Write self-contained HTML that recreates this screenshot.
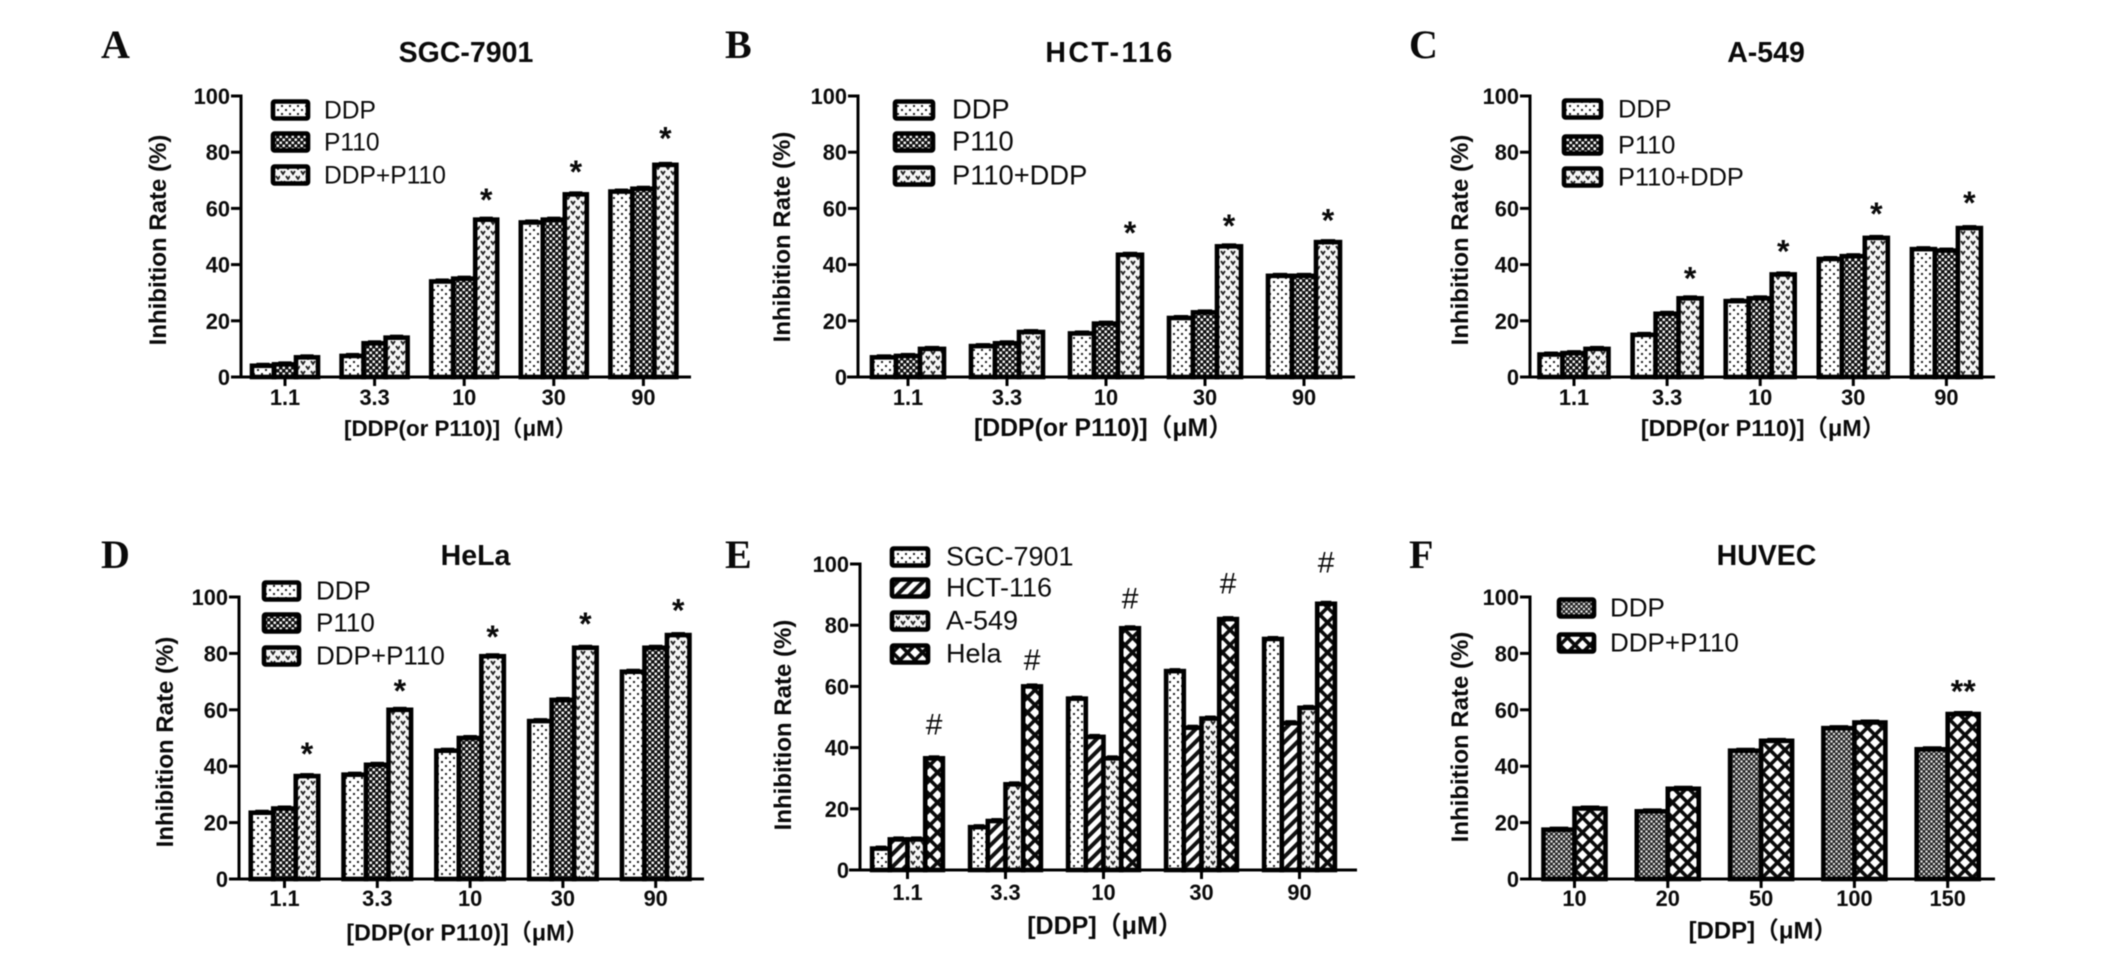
<!DOCTYPE html>
<html lang="en">
<head>
<meta charset="utf-8">
<title>Inhibition rate panels</title>
<style>
html,body{margin:0;padding:0;background:#fff;width:2126px;height:976px;overflow:hidden}
svg{display:block;filter:blur(0.45px)}
text{fill:#0a0a0a;font-family:"Liberation Sans","Noto Sans CJK SC",sans-serif}
</style>
</head>
<body>
<svg id="fig" xmlns="http://www.w3.org/2000/svg" width="2126" height="976" viewBox="0 0 2126 976">
<defs>
<pattern id="p-sparse" width="8" height="8" patternUnits="userSpaceOnUse"><rect width="8" height="8" fill="#fff"/><rect x="1" y="1" width="2" height="2" fill="#222"/><rect x="5" y="5" width="2" height="2" fill="#222"/></pattern>
<pattern id="p-dense" width="6" height="6" patternUnits="userSpaceOnUse"><rect width="6" height="6" fill="#111"/><rect x="0.5" y="0.5" width="2.5" height="2.5" fill="#f4f4f4"/><rect x="3.5" y="3.5" width="2.5" height="2.5" fill="#f4f4f4"/></pattern>
<pattern id="p-fine" width="5" height="5" patternUnits="userSpaceOnUse"><rect width="5" height="5" fill="#222"/><rect x="0.4" y="0.4" width="2.2" height="2.2" fill="#e8e8e8"/><rect x="2.9" y="2.9" width="2.1" height="2.1" fill="#e8e8e8"/></pattern>
<pattern id="p-heart" width="10" height="10" patternUnits="userSpaceOnUse"><rect width="10" height="10" fill="#f6f6f6"/><path d="M1 1 L3 4 L5 1 M6 6 L8 9 L10 6" stroke="#222" stroke-width="1.8" fill="none"/></pattern>
<pattern id="p-stripe" width="9" height="9" patternUnits="userSpaceOnUse" patternTransform="rotate(45)"><rect width="9" height="9" fill="#fff"/><rect width="4" height="9" fill="#111"/></pattern>
<pattern id="p-cross" width="15" height="15" patternUnits="userSpaceOnUse"><rect width="15" height="15" fill="#fff"/><path d="M-2 -2 L17 17 M17 -2 L-2 17 M-2 13 L2 17 M13 -2 L17 2 M-2 2 L2 -2 M13 17 L17 13" stroke="#0a0a0a" stroke-width="3.6" fill="none"/></pattern>
</defs>
</svg>
<script>
/* Chart values */
const doseLabels = ['1.1', '3.3', '10', '30', '90'];
const huvecLabels = ['10', '20', '50', '100', '150'];
const yTickValues = [0, 20, 40, 60, 80, 100];

const sgcDdp = [4, 7.5, 34, 55, 66];
const sgcP110 = [4.5, 12, 35, 56, 67];
const sgcCombo = [7, 14, 56, 65, 75.5];
const sgcMarkGap = [null, null, 8, 9, 10.5];

const hctDdp = [7, 11, 15.5, 21, 36];
const hctP110 = [7.5, 12, 19, 23, 36];
const hctCombo = [10, 16, 43.5, 46.5, 48];
const hctMarkGap = [null, null, 8.9, 8.3, 8.8];

const a549Ddp = [8, 15, 27, 42, 45.5];
const a549P110 = [8.5, 22.5, 28, 43, 45];
const a549Combo = [10, 28, 36.5, 49.5, 53];
const a549MarkGap = [null, 8.2, 9.2, 9.6, 10];

const helaDdp = [23.5, 37, 45.5, 56, 73.5];
const helaP110 = [25, 40.5, 50, 63.5, 82];
const helaCombo = [36.5, 60, 79, 82, 86.5];
const helaMarkGap = [8.9, 7.7, 7.8, 9.5, 9.8];

const cmpSgc = [7, 14, 56, 65, 75.5];
const cmpHct = [10, 16, 43.5, 46.5, 48];
const cmpA549 = [10, 28, 36.5, 49.5, 53];
const cmpHela = [36.5, 60, 79, 82, 87];
const cmpMarkGap = [9.8, 7.4, 8.4, 10.4, 12.2];

const huvecDdp = [17.5, 24, 45.5, 53.5, 46];
const huvecCombo = [25, 32, 49, 55.5, 58.5];
const huvecMarkGap = [null, null, null, null, 9.1];

const panels = [
 {id:'a',letter:'A',lx:101,ly:58,title:'SGC-7901',tx:466,ty:62,tSpace:0,axisX:241,xStart:231,xEnd:691,yTop:96,yBase:377,first:285,step:89.6,barW:22,
  cats:doseLabels,tickY:405,xTitle:'[DDP(or P110)]（μM）',xFont:22.3,xtx:460.5,xty:436,ylx:158,yly:240,mark:'*',gaps:sgcMarkGap,markBar:2,
  series:[['DDP',sgcDdp,'p-sparse'],['P110',sgcP110,'p-dense'],['DDP+P110',sgcCombo,'p-heart']],
  legX:271,legW:39,legText:324,legFont:24.6,legY:[110,142,175]},
 {id:'b',letter:'B',lx:725,ly:58,title:'HCT-116',tx:1110,ty:62,tSpace:2.4,axisX:858,xStart:847,xEnd:1355,yTop:96,yBase:377,first:908,step:99,barW:24,
  cats:doseLabels,tickY:405,xTitle:'[DDP(or P110)]（μM）',xFont:24.8,xtx:1103.5,xty:436,ylx:782,yly:237,mark:'*',gaps:hctMarkGap,markBar:2,
  series:[['DDP',hctDdp,'p-sparse'],['P110',hctP110,'p-dense'],['P110+DDP',hctCombo,'p-heart']],
  legX:893,legW:42,legText:952,legFont:27.3,legY:[110,142,176]},
 {id:'c',letter:'C',lx:1409,ly:58,title:'A-549',tx:1766,ty:62,tSpace:0,axisX:1530,xStart:1520,xEnd:1995,yTop:96,yBase:377,first:1574,step:93.1,barW:23,
  cats:doseLabels,tickY:405,xTitle:'[DDP(or P110)]（μM）',xFont:23.4,xtx:1763,xty:436,ylx:1460,yly:240,mark:'*',gaps:a549MarkGap,markBar:2,
  series:[['DDP',a549Ddp,'p-sparse'],['P110',a549P110,'p-dense'],['P110+DDP',a549Combo,'p-heart']],
  legX:1562,legW:41,legText:1618,legFont:25.4,legY:[109,145,177]},
 {id:'d',letter:'D',lx:101,ly:568,title:'HeLa',tx:475.5,ty:565,tSpace:0,axisX:239,xStart:229,xEnd:704,yTop:597,yBase:879,first:284.5,step:92.8,barW:22.5,
  cats:doseLabels,tickY:906,xTitle:'[DDP(or P110)]（μM）',xFont:23.2,xtx:467.5,xty:940.5,ylx:165,yly:742,mark:'*',gaps:helaMarkGap,markBar:2,
  series:[['DDP',helaDdp,'p-sparse'],['P110',helaP110,'p-dense'],['DDP+P110',helaCombo,'p-heart']],
  legX:262,legW:39,legText:316,legFont:26,legY:[591,623,656]},
 {id:'e',letter:'E',lx:725,ly:568,title:'',tx:0,ty:0,tSpace:0,axisX:860,xStart:849,xEnd:1357,yTop:564,yBase:870,first:907.5,step:98,barW:17.7,
  cats:doseLabels,tickY:900,xTitle:'[DDP]（μM）',xFont:25,xtx:1105,xty:934,ylx:783,yly:725,mark:'#',gaps:cmpMarkGap,markBar:3,
  series:[['SGC-7901',cmpSgc,'p-sparse'],['HCT-116',cmpHct,'p-stripe'],['A-549',cmpA549,'p-heart'],['Hela',cmpHela,'p-cross']],
  legX:890,legW:40,legText:946,legFont:27,legY:[557,588,621,654]},
 {id:'f',letter:'F',lx:1409,ly:568,title:'HUVEC',tx:1766.5,ty:565,tSpace:0,axisX:1530,xStart:1520,xEnd:1995,yTop:597,yBase:879,first:1574.5,step:93.3,barW:31,
  cats:huvecLabels,tickY:906,xTitle:'[DDP]（μM）',xFont:23.9,xtx:1763,xty:938.5,ylx:1460,yly:737,mark:'**',gaps:huvecMarkGap,markBar:1,
  series:[['DDP',huvecDdp,'p-fine'],['DDP+P110',huvecCombo,'p-cross']],
  legX:1557,legW:39,legText:1610,legFont:26,legY:[608,643]}
];

const SVGNS = 'http://www.w3.org/2000/svg';
const fig = document.getElementById('fig');

function mk(tag, attrs, parent) {
  const el = document.createElementNS(SVGNS, tag);
  for (const k in attrs) el.setAttribute(k, attrs[k]);
  parent.appendChild(el);
  return el;
}
function yScale(p, v) {
  return p.yBase - (v / 100) * (p.yBase - p.yTop);
}
function xCenter(p, i) {
  return p.first + i * p.step;
}
function barLeft(p, i, s) {
  const n = p.series.length;
  return xCenter(p, i) + (s - n / 2) * p.barW;
}

panels.forEach(function (p) {
  const g = mk('g', {}, fig);
  
  

  const letter = mk('text', {x: p.lx, y: p.ly, 'font-size': 40, 'font-weight': 'bold', style: 'font-family:"Liberation Serif",serif'}, g);
  letter.textContent = p.letter;
  
  

  if (p.title) {
    const title = mk('text', {x: p.tx, y: p.ty, 'font-size': 28.5, 'font-weight': 'bold', 'text-anchor': 'middle', 'letter-spacing': p.tSpace}, g);
    title.textContent = p.title;
    
    
  }

  const yTitle = mk('text', {x: 0, y: 0, transform: 'translate(' + (p.ylx + 8) + ' ' + p.yly + ') rotate(-90)', 'font-size': 24, 'font-weight': 'bold', 'text-anchor': 'middle'}, g);
  yTitle.textContent = 'Inhibition Rate (%)';
  
  

  const xTitle = mk('text', {x: p.xtx, y: p.xty, 'font-size': p.xFont, 'font-weight': 'bold', 'text-anchor': 'middle'}, g);
  xTitle.textContent = p.xTitle;
  
  

  /* bars */
  p.series.forEach(function (s, si) {
    s[1].forEach(function (v, i) {
      const top = yScale(p, v);
      const x = barLeft(p, i, si);
      const cap = mk('line', {x1: x + p.barW * 0.2, x2: x + p.barW * 0.8, y1: top - 1.5, y2: top - 1.5, stroke: '#000', 'stroke-width': 3}, g);
      
      
      const bar = mk('rect', {x: x, y: top, width: p.barW, height: p.yBase - top, fill: 'url(#' + s[2] + ')', stroke: '#000', 'stroke-width': 4.6}, g);
      
      
    });
  });

  /* significance marks */
  const markSeries = p.series[p.markBar][1];
  p.gaps.forEach(function (gap, i) {
    if (gap === null) return;
    const cx = barLeft(p, i, p.markBar) + p.barW / 2;
    const isStar = p.mark !== '#';
    const mark = mk('text', {x: cx, y: yScale(p, markSeries[i] + gap) + (isStar ? 14 : 6), 'font-size': isStar ? 32 : 30, 'font-weight': isStar ? 'bold' : 'normal', 'text-anchor': 'middle'}, g);
    mark.textContent = p.mark;
    
    
  });

  /* axes */
  const yAxis = mk('line', {x1: p.axisX, x2: p.axisX, y1: p.yTop - 1.5, y2: p.yBase + 1.5, stroke: '#000', 'stroke-width': 3}, g);
  
  
  const xAxis = mk('line', {x1: p.xStart, x2: p.xEnd, y1: p.yBase, y2: p.yBase, stroke: '#000', 'stroke-width': 3}, g);
  
  

  yTickValues.forEach(function (t) {
    const y = yScale(p, t);
    const tick = mk('line', {x1: p.axisX - 10, x2: p.axisX, y1: y, y2: y, stroke: '#000', 'stroke-width': 3}, g);
    
    
    const lab = mk('text', {x: p.axisX - 11, y: y + 8, 'font-size': 21.8, 'font-weight': 'bold', 'text-anchor': 'end'}, g);
    lab.textContent = String(t);
    
    
  });

  p.cats.forEach(function (c, i) {
    const x = xCenter(p, i);
    const tick = mk('line', {x1: x, x2: x, y1: p.yBase, y2: p.yBase + 9, stroke: '#000', 'stroke-width': 3}, g);
    
    
    const lab = mk('text', {x: x, y: p.tickY, 'font-size': 21.8, 'font-weight': 'bold', 'text-anchor': 'middle'}, g);
    lab.textContent = c;
    
    
  });

  /* legend */
  p.series.forEach(function (s, si) {
    const cy = p.legY[si];
    const sw = mk('rect', {x: p.legX + 2, y: cy - 8.5, width: p.legW - 4, height: 17, rx: 1.5, fill: 'url(#' + s[2] + ')', stroke: '#000', 'stroke-width': 4.6}, g);
    
    
    const t = mk('text', {x: p.legText, y: cy + 8.5, 'font-size': p.legFont}, g);
    t.textContent = s[0];
    
    
  });
});
</script>
</body>
</html>
